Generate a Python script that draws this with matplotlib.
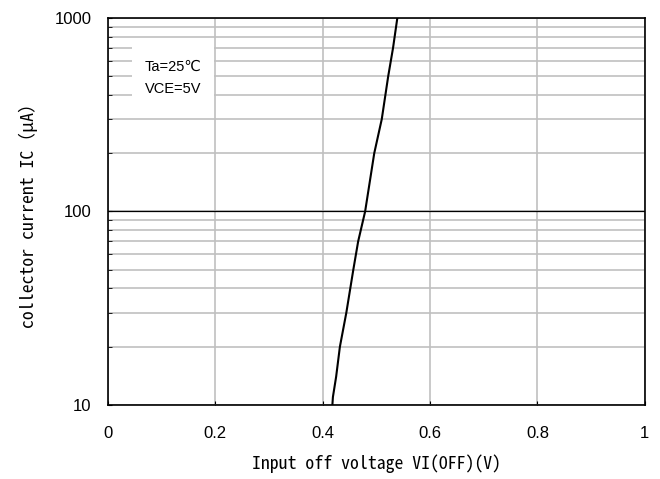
import numpy as np
import matplotlib.pyplot as plt
from matplotlib.ticker import FixedLocator, NullFormatter

plt.rcParams['font.family'] = ['Liberation Sans', 'DejaVu Sans']

# curve: input off voltage (V) vs collector current (uA)
v_off = [0.418, 0.419, 0.425, 0.432, 0.444, 0.457, 0.466, 0.479, 0.496, 0.510, 0.522, 0.531, 0.539]
i_c = [10, 11, 14, 20, 30, 50, 70, 100, 200, 300, 500, 700, 1000]

x_ticks = [0, 0.2, 0.4, 0.6, 0.8, 1]
x_labels = ['0', '0.2', '0.4', '0.6', '0.8', '1']
y_ticks = [10, 100, 1000]

fig = plt.figure(figsize=(6.6, 4.79), dpi=100)
ax = fig.add_axes([0.1636, 0.1545, 0.8134, 0.808])

ax.set_yscale('log')
ax.set_xlim(0, 1)
ax.set_ylim(10, 1000)

minor = [m * d for d in (10, 100) for m in range(2, 10)]
ax.yaxis.set_minor_locator(FixedLocator(minor))
ax.yaxis.set_minor_formatter(NullFormatter())
ax.set_yticks(y_ticks)
ax.set_yticklabels([str(t) for t in y_ticks])
ax.set_xticks(x_ticks)
ax.set_xticklabels(x_labels)

ax.grid(True, which='both', axis='y', color='#c0c0c0', lw=1.2)
ax.grid(True, which='major', axis='x', color='#c0c0c0', lw=1.2)
ax.axhline(100, color='black', lw=0.9, zorder=2)

ax.plot(v_off, i_c, color='black', lw=1.5, zorder=3)

ax.tick_params(axis='both', which='both', direction='in', length=3, labelsize=12)
ax.tick_params(axis='x', pad=15)
ax.tick_params(axis='y', pad=12)
for s in ax.spines.values():
    s.set_linewidth(1.2)

ax.text(0.068, 0.846, 'Ta=25℃\nVCE=5V', transform=ax.transAxes, fontsize=10.5,
        va='center', ha='left', linespacing=1.75,
        bbox=dict(facecolor='white', edgecolor='none', pad=9), zorder=4)

label_font = ['Noto Sans Mono CJK JP', 'DejaVu Sans Mono']
ax.set_xlabel('Input off voltage VI(OFF)(V)', fontsize=12.8, labelpad=10,
              family=label_font)
ax.set_ylabel('collector current IC（μA）', fontsize=12.8, labelpad=12,
              family=label_font)

fig.savefig('out.png', dpi=100)
